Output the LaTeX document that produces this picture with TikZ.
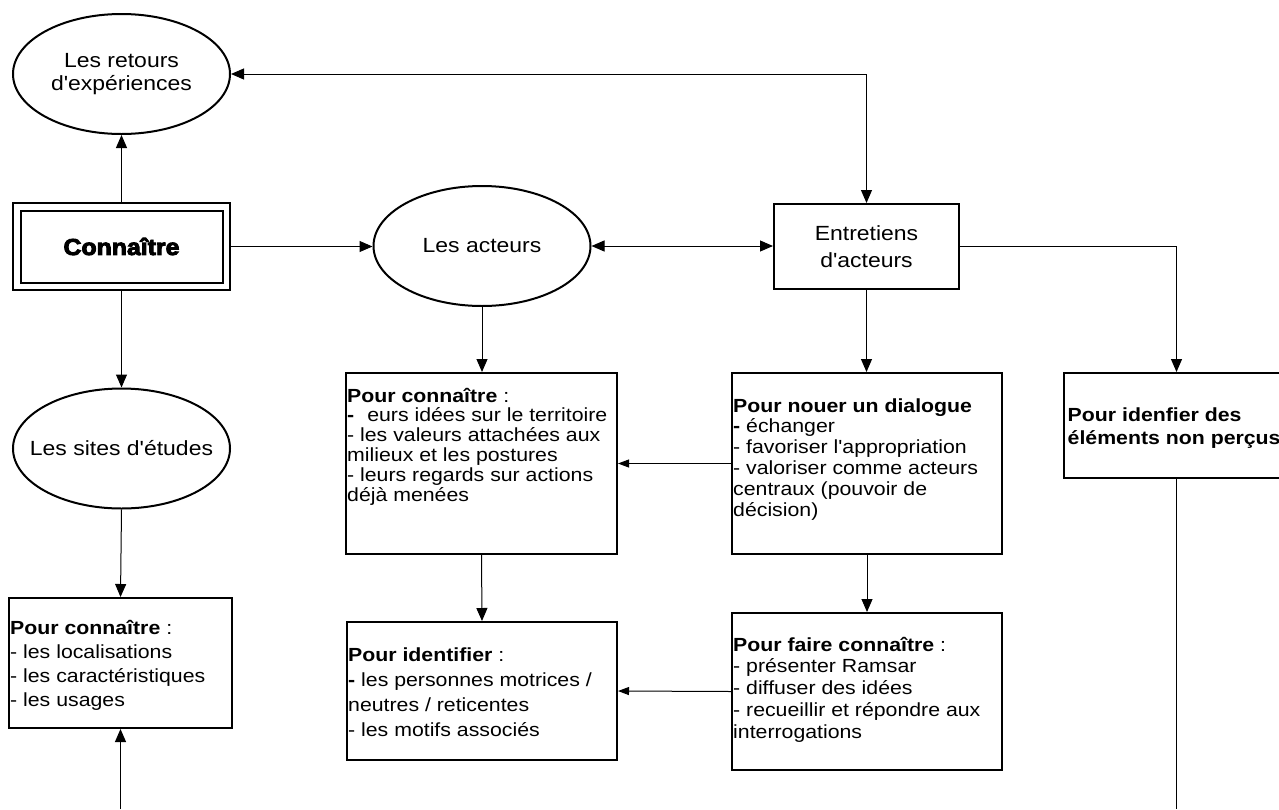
\documentclass[tikz,border=0pt]{standalone}
\usepackage{fontspec}
\newfontfamily\mainsans{Liberation Sans}[FakeStretch=1.12]
\newfontfamily\heavyfont{Liberation Sans}[FakeStretch=1.08, BoldFeatures={FakeBold=4}]
\usetikzlibrary{arrows.meta,shapes.geometric}
\begin{document}
\begin{tikzpicture}[x=1pt,y=-1pt,
  >={Triangle[length=13pt,width=11pt]},
  boxline/.style={draw, line width=2pt},
  rbox/.style={boxline, rectangle, inner sep=0pt},
  oval/.style={boxline, ellipse, inner sep=0pt, minimum width=217pt, minimum height=120pt,
    align=center, font=\mainsans\fontsize{20.5}{23.5}\selectfont},
  conn/.style={line width=1pt},
  arr/.style={conn, ->},
  darr/.style={conn, <->},
  sarr/.style={conn, -{Triangle[length=11pt,width=8pt]}},
  % anchored at the baseline of the last line
  btext/.style={inner sep=0pt, anchor=base west, align=left},
]
\useasboundingbox (0,0) rectangle (1279,809);
\clip (0,0) rectangle (1279,809);
\fill[white] (0,0) rectangle (1279,809);

% ovals
\node[oval] (ret) at (121.5,74) {Les retours\\d'expériences};
\node[oval] (act) at (482,246) {Les acteurs};
\node[oval, inner xsep=-45pt] (sites) at (121.5,448.5) {Les sites d'études};

% central "Connaître" box with double frame
\node[rbox, minimum width=217pt, minimum height=87pt,
      font=\heavyfont\bfseries\fontsize{23}{27}\selectfont] (know) at (121.5,246.5) {Connaître};
\draw[boxline] ([shift={(8.5,8.5)}]know.north west) rectangle ([shift={(-8.5,-8.5)}]know.south east);

\node[rbox, minimum width=185pt, minimum height=85pt, align=center,
      font=\mainsans\fontsize{20.5}{26.5}\selectfont] (ent) at (866.5,246.5) {Entretiens\\d'acteurs};

% text boxes
\node[rbox, minimum width=223pt, minimum height=130pt] (locbox) at (120.5,663) {};
\node[rbox, minimum width=271pt, minimum height=181pt] (valbox) at (481.5,463.5) {};
\node[rbox, minimum width=270pt, minimum height=138pt] (idbox) at (482,691) {};
\node[rbox, minimum width=270pt, minimum height=181pt] (dialbox) at (867,463.5) {};
\node[rbox, minimum width=270pt, minimum height=157pt] (ramsbox) at (867,691.5) {};
\node[rbox, minimum width=225pt, minimum height=105pt] (percbox) at (1176.5,425.5) {};

\node[btext, font=\mainsans\fontsize{19}{24.2}\selectfont] (loctext) at (10,706.6)
  {\textbf{Pour connaître} :\\- les localisations\\- les caractéristiques\\- les usages};
\node[btext, font=\mainsans\fontsize{19}{19.9}\selectfont] (valtext) at (347,501.5)
  {\textbf{Pour connaître} :\\\textbf{-}\hspace{13pt}eurs idées sur le territoire\\- les valeurs attachées aux\\milieux et les postures\\- leurs regards sur actions\\déjà menées};
\node[btext, font=\mainsans\fontsize{19}{25}\selectfont] (idtext) at (348,736.7)
  {\textbf{Pour identifier} :\\\textbf{-} les personnes motrices /\\neutres / reticentes\\- les motifs associés};
\node[btext, font=\mainsans\fontsize{19}{20.9}\selectfont] (dialtext) at (733,516.5)
  {\textbf{Pour nouer un dialogue}\\\textbf{-} échanger\\- favoriser l'appropriation\\- valoriser comme acteurs\\centraux (pouvoir de\\décision)};
\node[btext, font=\mainsans\fontsize{19}{21.75}\selectfont] (ramstext) at (733,738)
  {\textbf{Pour faire connaître} :\\- présenter Ramsar\\- diffuser des idées\\- recueillir et répondre aux\\interrogations};
\node[btext, font=\mainsans\bfseries\fontsize{19}{22.3}\selectfont] (perctext) at (1067.5,444)
  {Pour idenfier des\\éléments non perçus};

% connectors
\coordinate (locin) at (120.5,809);
\coordinate (percout) at (1176.5,809);
\draw[arr] (know.north) -- (ret.south);
\draw[darr] (ent.north) |- (ret.east);
\draw[arr] (know.east) -- (know.east -| act.west);
\draw[darr] (act.east) -- (act.east -| ent.west);
\draw[arr] (ent.east) -| (percbox.north);
\draw[arr] (know.south) -- (sites.north);
\draw[arr] (sites.south) -- (locbox.north);
\draw[arr] (locin) -- (locbox.south);
\draw[arr] (act.south) -- (act.south |- valbox.north);
\draw[arr] (valbox.south) -- (idbox.north);
\draw[arr] (ent.south) -- (ent.south |- dialbox.north);
\draw[sarr] (dialbox.west) -- (valbox.east);
\draw[arr] (dialbox.south) -- (ramsbox.north);
\draw[sarr] (ramsbox.west) -- (idbox.east);
\draw[conn] (percbox.south) -- (percout);
\end{tikzpicture}
\end{document}
